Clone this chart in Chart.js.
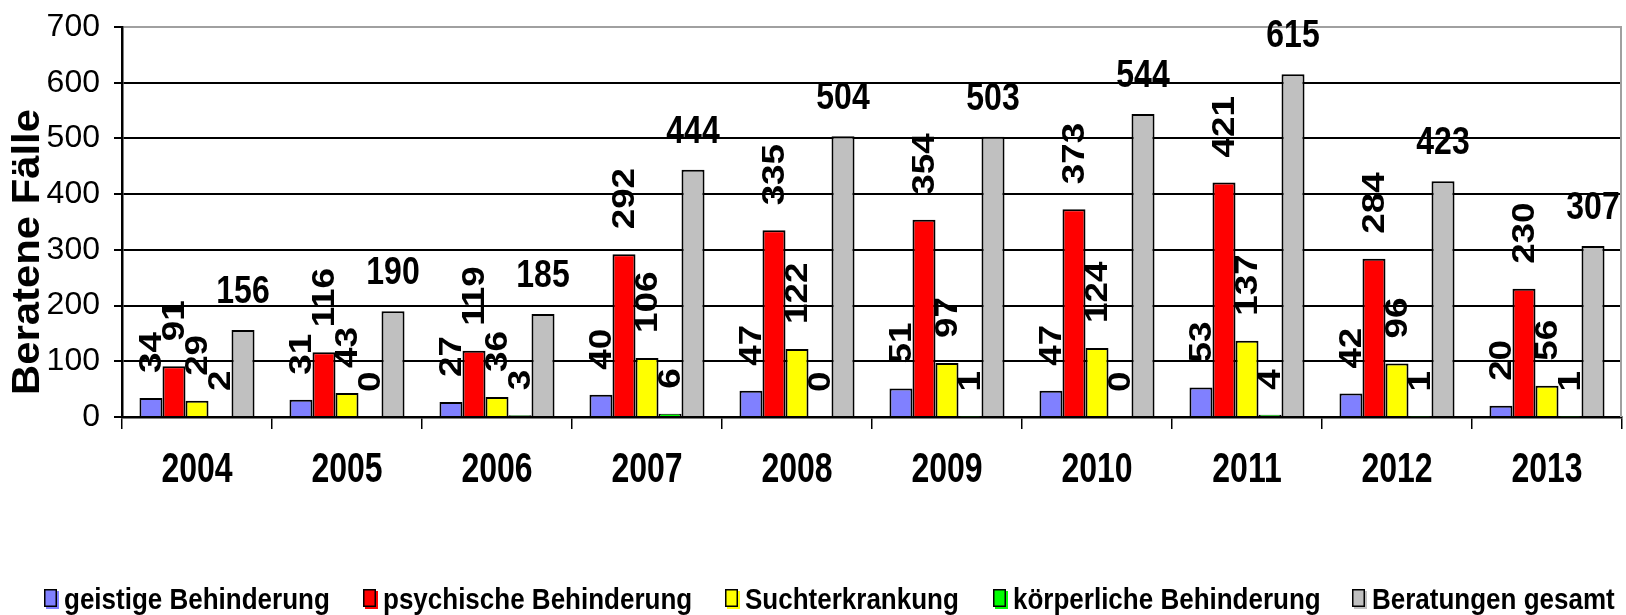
<!DOCTYPE html>
<html>
<head>
<meta charset="utf-8">
<script src="https://cdn.jsdelivr.net/npm/chart.js@4.4.1/dist/chart.umd.min.js"></script>
<style>
  html, body { margin: 0; padding: 0; background: #fff; }
  #wrap { width: 1626px; height: 615px; }
</style>
</head>
<body>
<div id="wrap"><canvas id="c" width="1626" height="615"></canvas></div>
<script>
const categories = ['2004','2005','2006','2007','2008','2009','2010','2011','2012','2013'];
const geistige    = [34, 31, 27, 40, 47, 51, 47, 53, 42, 20];
const psychische  = [91, 116, 119, 292, 335, 354, 373, 421, 284, 230];
const sucht       = [29, 43, 36, 106, 122, 97, 124, 137, 96, 56];
const koerperlich = [2, 0, 3, 6, 0, 1, 0, 4, 1, 1];
const gesamt      = [156, 190, 185, 444, 504, 503, 544, 615, 423, 307];
const seriesNames = ['geistige Behinderung','psychische Behinderung','Suchterkrankung','körperliche Behinderung','Beratungen gesamt'];
const seriesColors = ['#8080FF','#FF0000','#FFFF00','#00FF00','#C0C0C0'];
const yTicks = [0, 100, 200, 300, 400, 500, 600, 700];
const yTitle = 'Beratene Fälle';

const FONT = "'Liberation Sans', Arial, Helvetica, sans-serif";
const seriesData = [geistige, psychische, sucht, koerperlich, gesamt];

const customDraw = {
  id: 'customDraw',
  afterDatasetsDraw(chart) {
    const ctx = chart.ctx;
    ctx.save();
    ctx.fillStyle = '#000';
    chart.data.datasets.forEach((ds, di) => {
      const meta = chart.getDatasetMeta(di);
      meta.data.forEach((bar, i) => {
        const v = ds.data[i];
        ctx.save();
        if (di === 4) {
          ctx.translate(bar.x, bar.y - 27);
          ctx.scale(1, 1.2);
          ctx.font = 'bold 32px ' + FONT;
          ctx.textAlign = 'center';
          ctx.textBaseline = 'alphabetic';
          ctx.fillText(String(v), 0, 0);
        } else {
          ctx.translate(bar.x, bar.y - 25);
          ctx.scale(1, 1.15);
          ctx.rotate(-Math.PI / 2);
          ctx.font = 'bold 32px ' + FONT;
          ctx.textAlign = 'left';
          ctx.textBaseline = 'middle';
          ctx.fillText(String(v), 0, 1);
        }
        ctx.restore();
      });
    });
    ctx.restore();
  },
  afterDraw(chart) {
    const ctx = chart.ctx;
    const area = chart.chartArea;
    ctx.save();
    // right border of plot area
    ctx.strokeStyle = '#a0a0a0';
    ctx.lineWidth = 2;
    ctx.beginPath();
    ctx.moveTo(area.right - 1, area.top);
    ctx.lineTo(area.right - 1, area.bottom);
    ctx.stroke();

    // x category labels
    const xs = chart.scales.x;
    ctx.fillStyle = '#000';
    categories.forEach((c, i) => {
      ctx.save();
      ctx.translate(xs.getPixelForValue(i), 482);
      ctx.scale(1, 1.3);
      ctx.font = 'bold 32px ' + FONT;
      ctx.textAlign = 'center';
      ctx.textBaseline = 'alphabetic';
      ctx.fillText(c, 0, 0);
      ctx.restore();
    });

    // y axis title
    ctx.save();
    ctx.translate(29, 252);
    ctx.scale(1, 1.1);
    ctx.rotate(-Math.PI / 2);
    ctx.font = 'bold 38px ' + FONT;
    ctx.textAlign = 'center';
    ctx.textBaseline = 'middle';
    ctx.fillText(yTitle, 0, 0);
    ctx.restore();

    // legend
    const boxX = [44, 363, 725, 993, 1352];
    const boxY = 589, bw = 13, bh = 18;
    seriesNames.forEach((name, i) => {
      const x = boxX[i];
      ctx.fillStyle = seriesColors[i];
      ctx.fillRect(x + 2, boxY + 2, bw, bh);
      ctx.fillRect(x, boxY, bw, bh);
      ctx.strokeStyle = '#000';
      ctx.lineWidth = 1.5;
      ctx.strokeRect(x + 0.75, boxY + 0.75, bw - 1.5, bh - 1.5);
      ctx.save();
      ctx.translate(x + 20, 609);
      ctx.scale(1, 1.1);
      ctx.font = 'bold 26px ' + FONT;
      ctx.textAlign = 'left';
      ctx.textBaseline = 'alphabetic';
      ctx.fillStyle = '#000';
      ctx.fillText(name, 0, 0);
      ctx.restore();
    });
    ctx.restore();
  }
};

new Chart(document.getElementById('c'), {
  type: 'bar',
  data: {
    labels: categories,
    datasets: seriesData.map((d, i) => ({
      label: seriesNames[i],
      data: d,
      backgroundColor: seriesColors[i],
      borderColor: '#000',
      borderWidth: 2,
      categoryPercentage: 0.767,
      barPercentage: 1.0
    }))
  },
  options: {
    responsive: false,
    devicePixelRatio: 1,
    animation: false,
    layout: { padding: { top: 27, right: 4, left: 0, bottom: 0 } },
    plugins: { legend: { display: false }, tooltip: { enabled: false } },
    scales: {
      x: {
        offset: true,
        grid: { display: true, drawOnChartArea: false, drawTicks: true, tickLength: 12, color: '#000', lineWidth: 1.5, offset: true },
        border: { display: true, color: '#000', width: 2.5 },
        ticks: { display: false },
        afterFit(s) { s.height = 198; s.paddingLeft = 0; s.paddingRight = 0; }
      },
      y: {
        min: 0,
        max: 700,
        afterBuildTicks(s) { s.ticks = yTicks.map(v => ({ value: v })); },
        ticks: {
          font: { family: FONT, size: 32 },
          color: '#000',
          padding: 14
        },
        grid: {
          color: c => (c.tick && c.tick.value === 700) ? '#a0a0a0' : '#000',
          lineWidth: 2,
          tickColor: '#000',
          tickLength: 8,
          drawTicks: true
        },
        border: { display: true, color: '#000', width: 2.5 },
        afterFit(s) { s.width = 122; s.paddingTop = 0; s.paddingBottom = 0; }
      }
    }
  },
  plugins: [customDraw]
});
</script>
</body>
</html>
